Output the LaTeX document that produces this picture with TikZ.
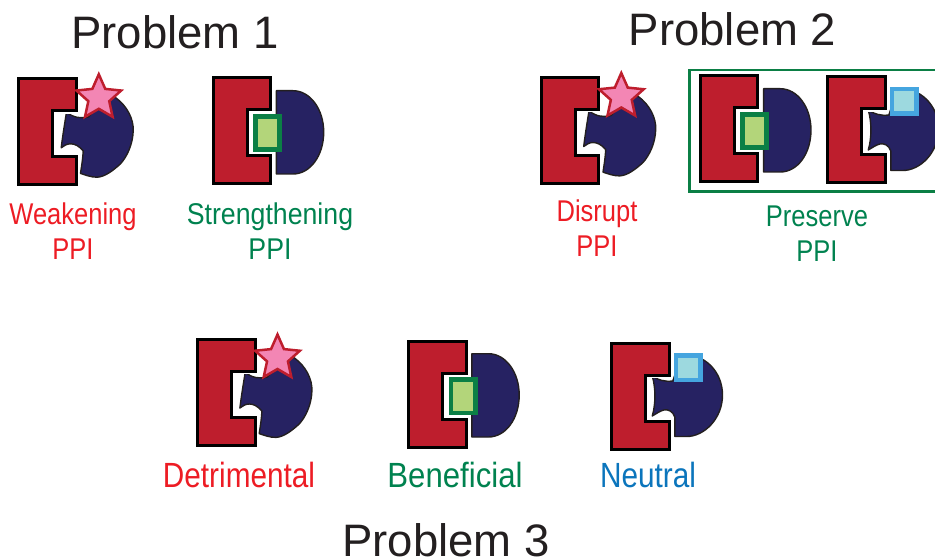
\documentclass[tikz,border=0pt]{standalone}
\usepackage{fontspec}
\setmainfont{Liberation Sans}
\newfontfamily\narrowfont[FakeStretch=0.85]{Liberation Sans}
\newfontfamily\widerfont[FakeStretch=0.89]{Liberation Sans}
\definecolor{clampred}{HTML}{BE1E2D}
\definecolor{lobeblue}{HTML}{262262}
\definecolor{starrim}{HTML}{BE1E2D}
\definecolor{starfill}{HTML}{F386B4}
\definecolor{rimgreen}{HTML}{0B7F45}
\definecolor{coregreen}{HTML}{B3D57A}
\definecolor{rimblue}{HTML}{45A5DF}
\definecolor{coreblue}{HTML}{9DD9DF}
\definecolor{labelred}{HTML}{ED1C24}
\definecolor{labelgreen}{HTML}{00824F}
\definecolor{labelblue}{HTML}{0B75BC}
\definecolor{titlegrey}{HTML}{231F20}
\tikzset{
  x=1pt,y=-1pt,
  lobe/.style={fill=lobeblue,draw=titlegrey,line width=1.4pt,line join=round},
  clamp/.style={fill=clampred,draw=black,line width=3pt,line join=miter,
    preaction={draw=white,line width=5.5pt}},
  title/.style={font=\fontsize{45.5}{46}\selectfont,text=titlegrey,inner sep=0pt,anchor=base},
  caption/.style={font=\narrowfont\fontsize{35}{38}\selectfont,inner sep=0pt,align=center,anchor=base},
  caption wide/.style={font=\widerfont\fontsize{35}{38}\selectfont,inner sep=0pt,align=center,anchor=base},
  caption small/.style={font=\narrowfont\fontsize{30}{34.5}\selectfont,inner sep=0pt,align=center,anchor=base},
  caption smallwide/.style={font=\widerfont\fontsize{30}{34.5}\selectfont,inner sep=0pt,align=center,anchor=base},
  pics/clampshape/.style={code={
    \draw[clamp] (0,0) -- (57.5,0) -- (57.5,32) -- (34,32) -- (34,78) -- (57.5,78) -- (57.5,106) -- (0,106) -- cycle;
  }},
  pics/closedlobe/.style={code={
    \draw[lobe] (47.7,33.4) .. controls (55,39) and (62,40) .. (70,38)
      -- (80,25) .. controls (88,17) and (95,17) .. (97,19)
      .. controls (108,27) and (115,40) .. (114.4,52)
      .. controls (114,66) and (108,78) .. (101.7,85)
      .. controls (94,92) and (86,98) .. (78.4,98.4)
      .. controls (72,98.5) and (66,96) .. (61.7,94.6)
      .. controls (63,86) and (64,80) .. (64.4,72)
      .. controls (60,67) and (56,65) .. (51.7,65)
      .. controls (48,65) and (45,67) .. (42.4,69)
      .. controls (44,56) and (46,44) .. (47.7,33.4) -- cycle;
  }},
  pics/openlobe/.style={code={
    \draw[lobe] (40.5,33) .. controls (46,37) and (53,39) .. (61,38)
      -- (70,12) .. controls (92,10) and (110.7,28) .. (110.7,52)
      .. controls (110.7,76) and (92,93.5) .. (75,93.5)
      -- (63,93.5) -- (63,74)
      .. controls (61,68) and (56,66) .. (52,67)
      .. controls (48,68) and (44,71) .. (40.5,73)
      .. controls (44,60) and (44,46) .. (40.5,33) -- cycle;
  }},
  pics/halfdisc/.style={code={
    \draw[lobe] (63.3,12.7) -- (80,12.7)
      .. controls (97,12.7) and (110.7,31) .. (110.7,54)
      .. controls (110.7,78) and (97,96) .. (80,96)
      -- (63.3,96) -- cycle;
    \fill[rimgreen] (40,36) rectangle (69,74);
    \fill[coregreen] (44.7,41) rectangle (64,69.5);
  }},
  pics/bluesquare/.style={code={
    \fill[rimblue] (62,10) rectangle (91,39);
    \fill[coreblue] (66.5,14.5) rectangle (86.5,34.5);
  }},
  pics/starmark/.style={code={
    \draw[fill=starfill,draw=starrim,line width=2.5pt,miter limit=10]
      (80,-4.5)
      \foreach \k in {1,...,9} {
        -- ({80+(mod(\k,2)==0 ? 23.5 : 11)*sin(36*\k)},{19-(mod(\k,2)==0 ? 23.5 : 11)*cos(36*\k)})
      } -- cycle;
  }},
  pics/weakened/.style={code={
    \pic {closedlobe};
    \pic {clampshape};
    \pic {starmark};
  }},
  pics/bound/.style={code={
    \pic {clampshape};
    \pic {halfdisc};
  }},
  pics/unaffected/.style={code={
    \pic {openlobe};
    \pic {clampshape};
    \pic {bluesquare};
  }},
}
\begin{document}
\begin{tikzpicture}
  \useasboundingbox (0,0) rectangle (935,559);
  \clip (0,0) rectangle (935,559);

  % Problem 1
  \node[title] (t1) at (175,49) {Problem 1};
  \pic at (18.8,78.8) {weakened};
  \pic at (213,78) {bound};
  \node[caption small,text=labelred] (c1) at (73,259) {Weakening\\PPI};
  \node[caption smallwide,text=labelgreen] (c2) at (270,259) {Strengthening\\PPI};

  % Problem 2
  \node[title] (t2) at (732.5,46) {Problem 2};
  \pic at (541.3,77.5) {weakened};
  \draw[draw=rimgreen,line width=2.4pt] (689.5,70) rectangle (945,191.5);
  \pic at (700.3,76) {bound};
  \pic at (827.8,77) {unaffected};
  \node[caption small,text=labelred] (c3) at (597,256) {Disrupt\\PPI};
  \node[caption small,text=labelgreen] (c4) at (817,261) {Preserve\\PPI};

  % Problem 3
  \pic at (197.5,339) {weakened};
  \pic at (408.5,341) {bound};
  \pic at (611.8,343) {unaffected};
  \node[caption,text=labelred] (c5) at (239,487) {Detrimental};
  \node[caption wide,text=labelgreen] (c6) at (455,487) {Beneficial};
  \node[caption,text=labelblue] (c7) at (648,487) {Neutral};
  \node[title] (t3) at (446,556) {Problem 3};
\end{tikzpicture}
\end{document}
